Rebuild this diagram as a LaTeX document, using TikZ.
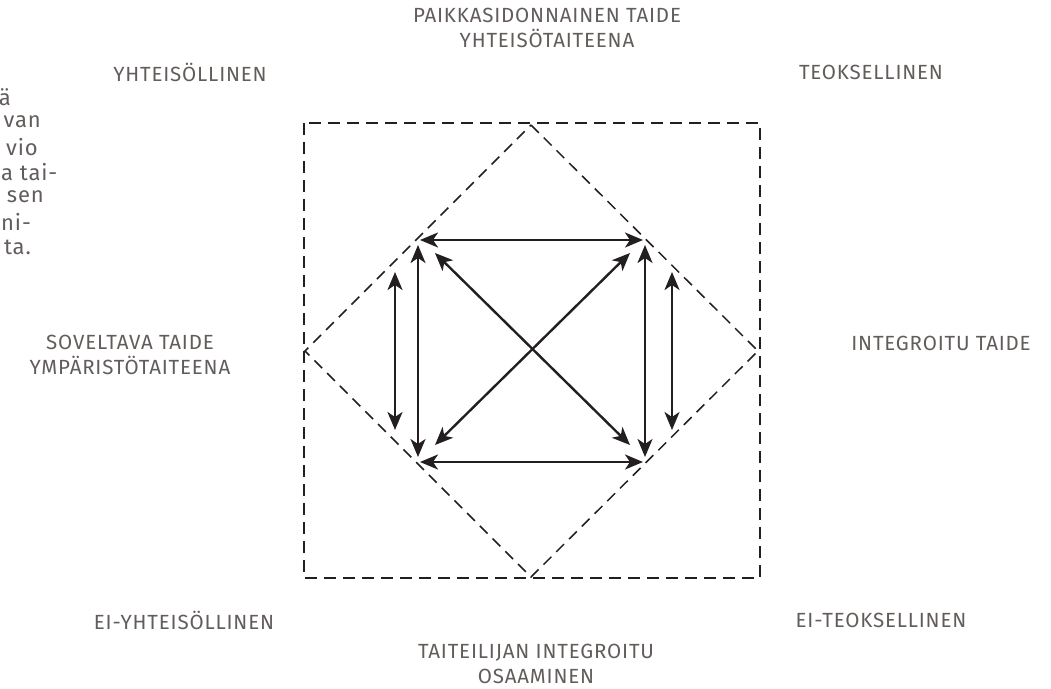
\documentclass[tikz,border=0pt]{standalone}
\usepackage{fontspec}
\setmainfont{Fira Sans}[LetterSpace=4]
\usetikzlibrary{arrows.meta}
\definecolor{txt}{HTML}{625D5B}
\definecolor{ink}{HTML}{231F20}
\tikzset{
  lbl/.style={text=txt, font=\fontsize{20.5}{24.5}\selectfont, align=center, inner sep=0pt},
  para/.style={text=txt, font=\fontsize{22}{25}\selectfont, anchor=east, inner sep=0pt},
  boxline/.style={draw=ink, line width=2pt, dash pattern=on 12pt off 7pt},
  diamline/.style={draw=ink, line width=1.5pt, dash pattern=on 11pt off 7pt},
  dbl/.style={draw=ink, line width=2.4pt, {Stealth[length=18pt,width=15pt,inset=5pt]}-{Stealth[length=18pt,width=15pt,inset=5pt]}}
}
\begin{document}
\begin{tikzpicture}[x=1pt,y=-1pt]
\useasboundingbox (0,0) rectangle (1051,688);
% frames
\draw[boxline] (304,123) rectangle (760,578);
\coordinate (dT) at (531,125);
\coordinate (dR) at (758,351);
\coordinate (dB) at (531,577);
\coordinate (dL) at (305,351);
\draw[diamline] (dT) -- (dR) -- (dB) -- (dL) -- cycle;
% arrow end points
\coordinate (htl) at (420,240); \coordinate (htr) at (643,240);
\coordinate (hbl) at (420,462); \coordinate (hbr) at (643,462);
\coordinate (vlt) at (418,245); \coordinate (vlb) at (418,457);
\coordinate (vrt) at (645,245); \coordinate (vrb) at (645,457);
\coordinate (olt) at (395,272); \coordinate (olb) at (395,430);
\coordinate (ort) at (672,272); \coordinate (orb) at (672,430);
\coordinate (d1a) at (435,253); \coordinate (d1b) at (630,445);
\coordinate (d2a) at (630,253); \coordinate (d2b) at (435,445);
\draw[dbl] (htl) -- (htr);
\draw[dbl] (hbl) -- (hbr);
\draw[dbl] (vlt) -- (vlb);
\draw[dbl] (vrt) -- (vrb);
\draw[dbl] (olt) -- (olb);
\draw[dbl] (ort) -- (orb);
\draw[dbl] (d1a) -- (d1b);
\draw[dbl] (d2a) -- (d2b);
% labels
\node[lbl] (top) at (547,28) {PAIKKASIDONNAINEN TAIDE\\YHTEISÖTAITEENA};
\node[lbl] (yht) at (190,72) {YHTEISÖLLINEN};
\node[lbl] (teo) at (871,72) {TEOKSELLINEN};
\node[lbl] (sov) at (130,355) {SOVELTAVA TAIDE\\YMPÄRISTÖTAITEENA};
\node[lbl] (int) at (941,343) {INTEGROITU TAIDE};
\node[lbl] (eiy) at (184,620) {EI-YHTEISÖLLINEN};
\node[lbl] (eit) at (881,620) {EI-TEOKSELLINEN};
\node[lbl] (bot) at (536,664) {TAITEILIJAN INTEGROITU\\OSAAMINEN};
% cut-off paragraph
\node[para] (p1) at (11,97) {ä};
\node[para] (p2) at (41,122) {van};
\node[para] (p3) at (38,147) {vio};
\node[para, anchor=west] (p4) at (1,172) {a tai-};
\node[para] (p5) at (44,197) {sen};
\node[para, anchor=west] (p6) at (1,222) {ni-};
\node[para] (p7) at (31,247) {ta.};
\end{tikzpicture}
\end{document}
